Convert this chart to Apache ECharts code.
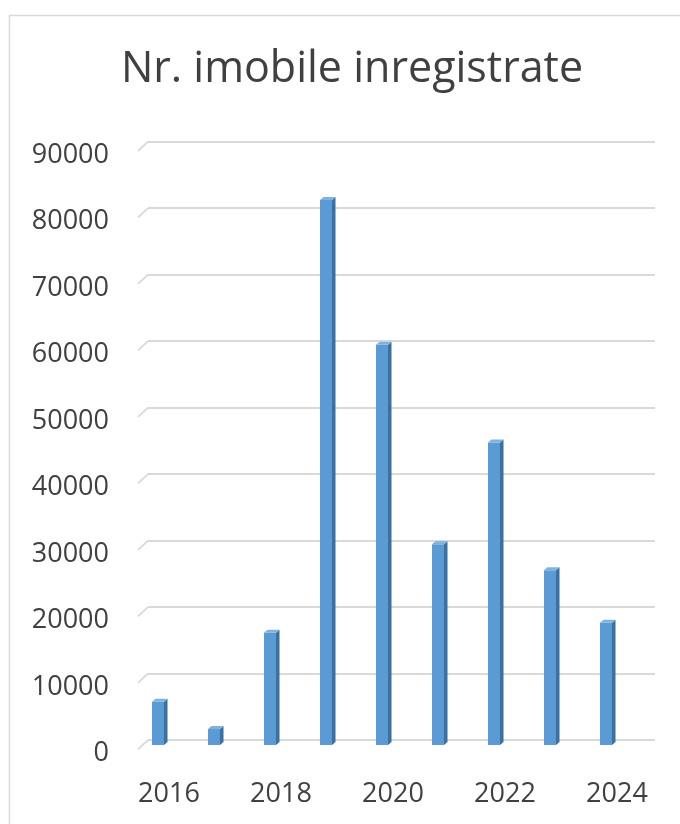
<!DOCTYPE html>
<html>
<head>
<meta charset="utf-8">
<script src="https://cdn.jsdelivr.net/npm/echarts@6/dist/echarts.min.js"></script>
<style>
html,body{margin:0;padding:0;background:#fff;}
#chart{width:680px;height:824px;}
</style>
</head>
<body>
<div id="chart"></div>
<script>
const titleText = 'Nr. imobile inregistrate';
const years = ['2016','2017','2018','2019','2020','2021','2022','2023','2024'];
const values = [6500, 2400, 16900, 82000, 60200, 30200, 45500, 26300, 18400];
const yTicks = [0,10000,20000,30000,40000,50000,60000,70000,80000,90000];
const yMin = 0, yMax = 90000, yStep = 10000;

const textColor = '#404040';
const gridColor = '#d9d9d9';
const frontColor = '#5b9bd5';
const sideColor = '#3f6f9c';
const topColor = '#7fb1e1';
const font = 'Open Sans';

const chart = echarts.init(document.getElementById('chart'), null, {renderer:'canvas'});

const option = {
  animation: false,
  backgroundColor: '#ffffff',
  title: {
    text: titleText,
    left: 352, top: 45, textAlign: 'center', padding: 0,
    textStyle: {fontFamily: font, fontSize: 43, fontWeight: 'normal', color: textColor, lineHeight: 50}
  },
  graphic: [{
    type: 'rect', silent: true, z: -10,
    shape: {x: 9.5, y: 15.5, width: 720, height: 900},
    style: {fill: 'none', stroke: gridColor, lineWidth: 1.5}
  }],
  grid: [
    {left: 148, right: 25, top: 141.7, bottom: 84},
    {left: 130, right: 46, top: 146.7, bottom: 79},
    {left: 148, right: 25, top: 155.2, bottom: 70.5}
  ],
  xAxis: [
    {type: 'category', gridIndex: 0, data: years, show: false},
    {type: 'category', gridIndex: 1, data: years,
     axisLine: {show: false}, axisTick: {show: false},
     axisLabel: {interval: 1, margin: 33, padding: [0,0,0,22], lineHeight: 32,
                 fontFamily: font, fontSize: 27, color: textColor}},
    {type: 'category', gridIndex: 2, data: years, show: false}
  ],
  yAxis: [
    {type: 'value', gridIndex: 0, min: yMin, max: yMax, interval: yStep,
     axisLine: {show: false}, axisTick: {show: false}, axisLabel: {show: false},
     splitLine: {show: true, lineStyle: {color: gridColor, width: 1.8}}},
    {type: 'value', gridIndex: 1, min: yMin, max: yMax, interval: yStep, show: false,
     splitLine: {show: false}},
    {type: 'value', gridIndex: 2, min: yMin, max: yMax, interval: yStep,
     axisLine: {show: false}, axisTick: {show: false}, splitLine: {show: false},
     axisLabel: {margin: 39, lineHeight: 32, formatter: v => String(v),
                 fontFamily: font, fontSize: 27, color: textColor}}
  ],
  series: [
    {
      type: 'custom', xAxisIndex: 0, yAxisIndex: 0, clip: false, silent: true,
      data: yTicks.map(t => [0, t]),
      encode: {x: 0, y: 1},
      renderItem: function (params, api) {
        const y = api.coord([0, api.value(1)])[1];
        const x0 = params.coordSys.x;
        return {type: 'line', shape: {x1: x0 - 10, y1: y + 9.3, x2: x0, y2: y},
                style: {stroke: gridColor, lineWidth: 1.8}};
      }
    },
    {
      type: 'bar', xAxisIndex: 1, yAxisIndex: 1, barWidth: 12,
      data: values,
      itemStyle: {color: frontColor}
    },
    {
      type: 'custom', xAxisIndex: 1, yAxisIndex: 1, clip: false, silent: true, z: 3,
      data: values.map((v, i) => [i, v]),
      encode: {x: 0, y: 1},
      renderItem: function (params, api) {
        const top = api.coord([api.value(0), api.value(1)]);
        const base = api.coord([api.value(0), 0]);
        const w = 12, dx = 3.5, dy = 3;
        const xl = top[0] - w / 2, xr = top[0] + w / 2;
        const yt = top[1], yb = base[1];
        return {type: 'group', children: [
          {type: 'polygon', shape: {points: [[xr, yt], [xr + dx, yt - dy], [xr + dx, yb - dy], [xr, yb]]},
           style: {fill: sideColor}},
          {type: 'polygon', shape: {points: [[xl, yt], [xr, yt], [xr + dx, yt - dy], [xl + dx, yt - dy]]},
           style: {fill: topColor}}
        ]};
      }
    }
  ]
};
chart.setOption(option);
</script>
</body>
</html>
